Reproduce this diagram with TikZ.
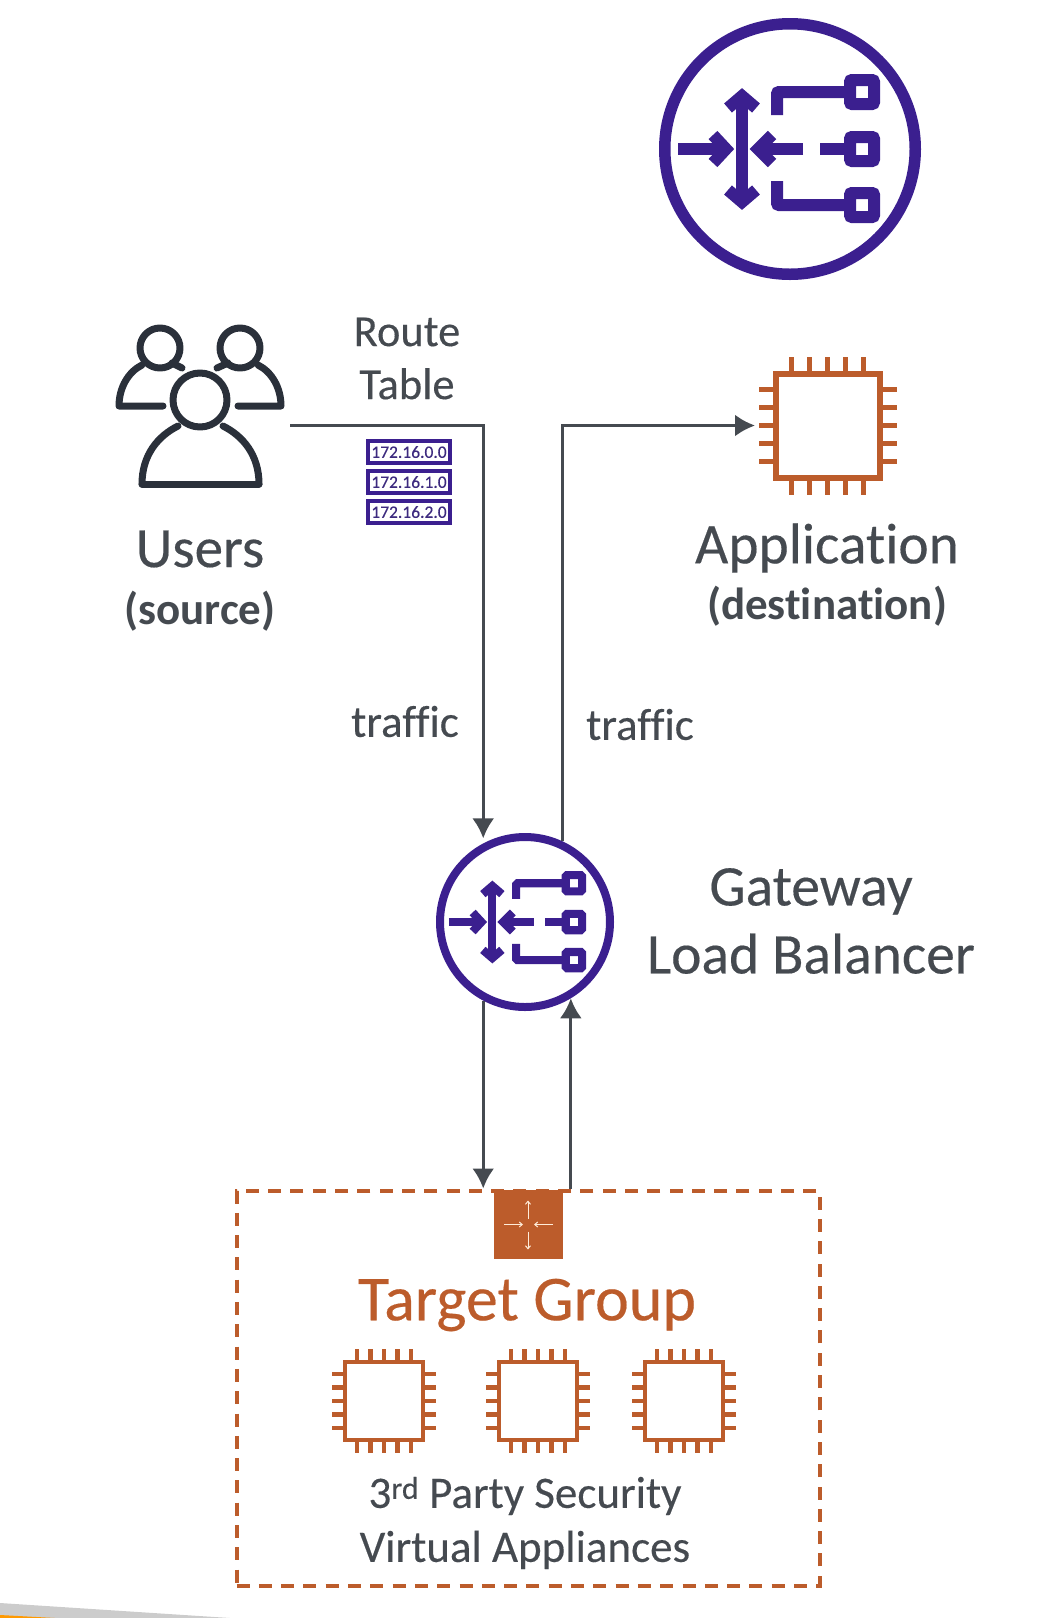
\documentclass[tikz,border=0pt]{standalone}
\usepackage{fontspec}
\setmainfont[Ligatures=NoCommon, UprightFeatures={FakeBold=0.3}]{Carlito}
\usetikzlibrary{arrows.meta}
\definecolor{lbpurple}{HTML}{3B1F8F}
\definecolor{ecorange}{HTML}{BC5C2B}
\definecolor{inkgrey}{HTML}{454A50}
\definecolor{userink}{HTML}{2A303A}
\tikzset{
  flow/.style={draw=inkgrey, line width=3pt, -{Latex[length=20pt,width=22pt]}},
  lbring/.style={circle, draw=lbpurple, inner sep=0pt},
  chipbody/.style={rectangle, draw=ecorange, inner sep=0pt},
  chippin/.style={draw=ecorange},
  person/.style={draw=userink, line width=7pt, line cap=round, line join=round},
  cidrbox/.style={rectangle, draw=lbpurple, line width=4pt, fill=white, text=lbpurple!75!inkgrey, inner sep=0pt, minimum width=82pt, minimum height=22pt, font=\fontsize{17.5}{17.5}\selectfont},
  label/.style={text=inkgrey, align=center, inner sep=0pt}
}
% the balancer glyph inside a ring: #1 ring node, #2 scale
\newcommand{\lbglyph}[2]{
  \begin{scope}[shift={(#1.center)}, x=#2pt, y=-#2pt, draw=lbpurple, line width=#2*12pt, line join=miter]
    \draw (-112,0) -- (-66,0);
    \draw (-77,-14) -- (-64,0) -- (-77,14);
    \draw (-48,-50) -- (-48,50);
    \draw (-62,-41) -- (-48,-53) -- (-34,-41);
    \draw (-62,41) -- (-48,53) -- (-34,41);
    \draw (13,0) -- (-30,0);
    \draw (-18,-14) -- (-32,0) -- (-18,14);
    \draw (30,0) -- (57,0);
    \draw[rounded corners=#2*2pt] (-13,-34) -- (-13,-57) -- (57,-57);
    \draw[rounded corners=#2*2pt] (-13,32) -- (-13,56) -- (57,56);
    \foreach \ky in {-57,0,56}{
      \draw[rounded corners=#2*2pt] (60,\ky-12) rectangle (84,\ky+12);
    }
  \end{scope}
}
% pins round a chip node: #1 node, #2 pitch, #3 pin length, #4 pin width
\newcommand{\chippins}[4]{
  \foreach \k in {-2,...,2}{
    \draw[chippin, line width=#4pt] ([xshift=\k*#2pt]#1.north) -- ++(0,-#3);
    \draw[chippin, line width=#4pt] ([xshift=\k*#2pt]#1.south) -- ++(0,#3);
    \draw[chippin, line width=#4pt] ([yshift=\k*#2pt]#1.west) -- ++(-#3,0);
    \draw[chippin, line width=#4pt] ([yshift=\k*#2pt]#1.east) -- ++(#3,0);
  }
}
\begin{document}
\begin{tikzpicture}[x=1pt, y=-1pt]
  \useasboundingbox (0,0) rectangle (1038,1618);

  % strip at the bottom edge
  \fill[black!20] (0,1603) -- (230,1618) -- (0,1618) -- cycle;
  \fill[orange!80!yellow] (0,1615) -- (55,1618) -- (0,1618) -- cycle;

  % large icon
  \node[lbring, line width=11.5pt, minimum size=250.5pt] (lbmark) at (790,149) {};
  \lbglyph{lbmark}{1}

  % users
  \draw[person] (200,400) circle (27);
  \draw[person] (160,348) circle (20);
  \draw[person] (240,348) circle (20);
  \draw[person] (142,484) -- (259,484);
  \draw[person] (142,484) .. controls (142,455) and (158,436) .. (178,426);
  \draw[person] (259,484) .. controls (259,455) and (243,436) .. (223,426);
  \draw[person] (163,406) -- (119,406) .. controls (119,388) and (128,372) .. (142,365);
  \draw[person] (238,406) -- (281,406) .. controls (281,388) and (272,372) .. (258,365);
  \draw[person] (172,363) -- (182,368);
  \draw[person] (228,363) -- (217,368);
  \coordinate (usersout) at (290,425);
  \node[label, font=\fontsize{57}{57}\selectfont] (userstxt) at (200,549) {Users};
  \node[label, font=\fontsize{45}{45}\selectfont\bfseries] (sourcetxt) at (200,611) {(source)};

  % route table
  \node[label, font=\fontsize{44.5}{53}\selectfont] (routetxt) at (407,358.5) {Route\\Table};
  \node[cidrbox] (cidra) at (409,452) {172.16.0.0};
  \node[cidrbox] (cidrb) at (409,482) {172.16.1.0};
  \node[cidrbox] (cidrc) at (409,512) {172.16.2.0};

  % application
  \node[chipbody, line width=6pt, minimum size=104pt] (appchip) at (827.5,425.5) {};
  \chippins{appchip}{18}{14}{5.5}
  \coordinate (appin) at (755,425.5);
  \node[label, font=\fontsize{57.5}{57.5}\selectfont] (apptxt) at (827,548) {Application};
  \node[label, font=\fontsize{45}{45}\selectfont\bfseries] (desttxt) at (827,606) {(destination)};

  % gateway
  \node[lbring, line width=8pt, minimum size=170pt] (gwlb) at (525,922) {};
  \lbglyph{gwlb}{0.68}
  \node[label, font=\fontsize{57.5}{68}\selectfont] (gwtxt) at (811,921) {Gateway\\Load Balancer};

  % target group
  \node[rectangle, draw=ecorange, line width=4pt, dash pattern=on 13pt off 9.3pt, minimum width=583pt, minimum height=395pt, inner sep=0pt] (tgroup) at (528,1388) {};
  \node[rectangle, fill=ecorange, minimum size=69pt, inner sep=0pt] (tgicon) at (528,1224.5) {};
  \begin{scope}[draw=orange!15, line width=1pt, -{Straight Barb[length=3pt,width=5pt]}]
    \draw (tgicon.center) ++(0,-6) -- ++(0,-18);
    \draw (tgicon.center) ++(0,7) -- ++(0,18);
    \draw (tgicon.center) ++(-24,0) -- ++(19,0);
    \draw (tgicon.center) ++(25,0) -- ++(-19,0);
  \end{scope}
  \node[label, text=ecorange, font=\fontsize{64}{64}\selectfont] (tgtxt) at (527,1305) {Target Group};
  \node[chipbody, line width=4.5pt, minimum size=78pt] (appla) at (384,1401) {};
  \node[chipbody, line width=4.5pt, minimum size=78pt] (applb) at (538,1401) {};
  \node[chipbody, line width=4.5pt, minimum size=78pt] (applc) at (684,1401) {};
  \chippins{appla}{13.5}{10.5}{4.5}
  \chippins{applb}{13.5}{10.5}{4.5}
  \chippins{applc}{13.5}{10.5}{4.5}
  \node[label, font=\fontsize{45}{54}\selectfont] (appltxt) at (525,1523) {3\textsuperscript{rd} Party Security\\Virtual Appliances};

  % connectors
  \draw[flow] (usersout) -| ([yshift=5pt]gwlb.118);
  \draw[flow] (gwlb.65) |- (appin);
  \draw[flow] (gwlb.242) -- (gwlb.242 |- tgroup.north);
  \draw[flow] (gwlb.-59 |- tgroup.north) -- (gwlb.-59);
  \node[label, font=\fontsize{45}{45}\selectfont] (trafin) at (405,721.5) {traffic};
  \node[label, font=\fontsize{45}{45}\selectfont] (trafout) at (640,724.5) {traffic};
\end{tikzpicture}
\end{document}
